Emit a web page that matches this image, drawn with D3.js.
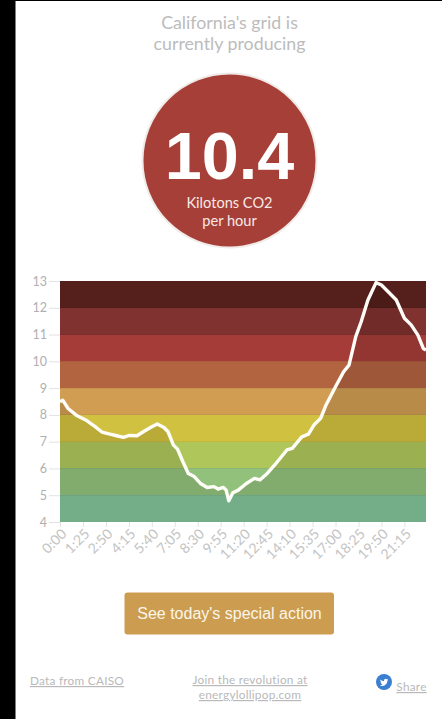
<!DOCTYPE html>
<html><head><meta charset="utf-8">
<script src="https://cdnjs.cloudflare.com/ajax/libs/d3/7.8.5/d3.min.js"></script>
<style>
html,body{margin:0;padding:0;background:#fff;overflow:hidden}
svg{display:block}
text{font-family:Lato,"Open Sans",sans-serif}
</style></head><body><svg id="c" width="442" height="719"></svg>
<script>
const minutes=[0,10,30,60,95,130,155,185,210,235,255,285,310,335,360,385,400,420,435,455,475,495,520,545,570,585,605,615,625,640,660,690,720,740,765,795,840,860,895,920,940,965,985,1020,1050,1070,1095,1115,1140,1170,1190,1215,1245,1275,1300,1325,1345,1355];
const co2=[8.49,8.55,8.24,7.99,7.81,7.56,7.36,7.28,7.22,7.16,7.23,7.22,7.38,7.53,7.66,7.53,7.37,6.87,6.72,6.25,5.81,5.71,5.44,5.29,5.32,5.23,5.29,5.19,4.79,5.09,5.19,5.44,5.63,5.57,5.79,6.13,6.69,6.75,7.18,7.28,7.62,7.87,8.37,9.05,9.61,9.86,10.92,11.48,12.29,12.94,12.85,12.6,12.29,11.61,11.36,10.98,10.48,10.42];
const tickMinutes=[0,85,170,255,340,425,510,595,680,765,850,935,1020,1105,1190,1275];
const tickLabels=["0:00","1:25","2:50","4:15","5:40","7:05","8:30","9:55","11:20","12:45","14:10","15:35","17:00","18:25","19:50","21:15"];
const yTicks=[4,5,6,7,8,9,10,11,12,13];
const bandFloors=[12,11,10,9,8,7,6,5,4];
const bandColors=["#551f1b","#7f3230","#a63c38","#b26340","#d09d52","#d1c140","#afc65a","#92c17c","#82c49a"];

const svg=d3.select("#c");
const x=d3.scaleLinear().domain([0,1355]).range([60,426]);
const y=d3.scaleLinear().domain([4,13]).range([522,281]);

// page frame
svg.append("rect").attr("width",15.5).attr("height",719).attr("fill","#000");
svg.append("rect").attr("width",442).attr("height",1).attr("fill","#000");

// heading
const head=svg.append("g").attr("text-anchor","middle").attr("fill","#bcbcbc").attr("font-size",17.8);
head.append("text").attr("x",229.5).attr("y",29).text("California's grid is");
head.append("text").attr("x",229.5).attr("y",50).text("currently producing");

// gauge
svg.append("circle").attr("cx",229.5).attr("cy",160.5).attr("r",87).attr("fill","#a63f38").attr("stroke","#f0ebe8").attr("stroke-width",2);
svg.append("text").attr("x",229.5).attr("y",179).attr("text-anchor","middle").attr("fill","#fff")
  .attr("font-size",66.5).attr("font-weight",700).style("font-family","'Liberation Sans',Arial,sans-serif").text("10.4");
const sub=svg.append("g").attr("text-anchor","middle").attr("fill","#f7e9e6").attr("font-size",14.6);
sub.append("text").attr("x",229.5).attr("y",208).text("Kilotons CO2");
sub.append("text").attr("x",229.5).attr("y",226).text("per hour");

// bands
svg.append("g").attr("shape-rendering","crispEdges").selectAll("rect").data(bandFloors).join("rect")
  .attr("x",x(0)).attr("width",x(1355)-x(0))
  .attr("y",d=>y(d+1)).attr("height",d=>y(d)-y(d+1))
  .attr("fill",(d,i)=>bandColors[i]);

const pts=minutes.map((m,i)=>[m,co2[i]]);
svg.append("path").datum(pts)
  .attr("d",d3.area().x(d=>x(d[0])).y0(y(4)).y1(d=>y(d[1])))
  .attr("fill","#000").attr("fill-opacity",0.11);

// band separators
svg.append("g").attr("shape-rendering","crispEdges").selectAll("line").data(yTicks.slice(1,-1)).join("line")
  .attr("x1",x(0)).attr("x2",x(1355)).attr("y1",d=>y(d)).attr("y2",d=>y(d))
  .attr("stroke","#000").attr("stroke-opacity",0.05);

// axes
const yAxis=svg.append("g").attr("transform",`translate(${x(0)},0)`)
  .call(d3.axisLeft(y).tickValues(yTicks).tickSize(11).tickPadding(2));
yAxis.select(".domain").remove();
yAxis.selectAll("line").attr("stroke","#e2e2e2");
yAxis.selectAll("text").attr("fill","#b0b0b0").attr("font-size",12.5);

const xAxis=svg.append("g").attr("transform",`translate(0,${y(4)})`)
  .call(d3.axisBottom(x).tickValues(tickMinutes).tickFormat((d,i)=>tickLabels[i]).tickSize(5).tickPadding(4));
xAxis.select(".domain").remove();
xAxis.selectAll("line").attr("stroke","#e2e2e2");
xAxis.selectAll("text").attr("fill","#c4c4c4").attr("font-size",14)
  .attr("text-anchor","end").attr("x",3).attr("y",10).attr("dy","0.5em")
  .attr("transform","rotate(-45 0 10)");

// line
svg.append("path").datum(pts)
  .attr("d",d3.line().x(d=>x(d[0])).y(d=>y(d[1])))
  .attr("fill","none").attr("stroke","#fffdf8").attr("stroke-width",3.4).attr("stroke-linejoin","round");

// button
svg.append("rect").attr("x",124.5).attr("y",592.5).attr("width",209.5).attr("height",42).attr("rx",3).attr("fill","#cc9d50");
svg.append("text").attr("x",229.5).attr("y",619).attr("text-anchor","middle").attr("fill","#fbf5ea")
  .attr("font-size",16).style("font-family","'Liberation Sans',Arial,sans-serif").text("See today's special action");

// footer
const foot=svg.append("g").attr("fill","#b9b9b9").attr("font-size",11.8).attr("letter-spacing",0.25).attr("text-anchor","middle").attr("text-decoration","underline");
foot.append("text").attr("x",77).attr("y",685).text("Data from CAISO");
foot.append("text").attr("x",250).attr("y",684).text("Join the revolution at");
foot.append("text").attr("x",250).attr("y",699).text("energylollipop.com");
foot.append("text").attr("x",411.5).attr("y",691).text("Share");
svg.append("circle").attr("cx",384).attr("cy",682).attr("r",8).attr("fill","#3b7fd0");
svg.append("path").attr("transform","translate(379,677.5) scale(0.42)")
  .attr("d","M22 5c-.7.3-1.5.5-2.3.6.8-.5 1.5-1.3 1.8-2.2-.8.5-1.7.8-2.6 1A4 4 0 0 0 12 8c0 .3 0 .6.1.9C8.8 8.7 5.8 7.1 3.800 4.700a4 4 0 0 0 1.300 5.400c-.7 0-1.300-.2-1.800-.5 0 2 1.400 3.600 3.300 4-.6.2-1.200.2-1.800.1.500 1.600 2 2.800 3.800 2.800A8.200 8.200 0 0 1 2 18.200 11.600 11.600 0 0 0 20 7.900c.8-.6 1.500-1.300 2-2.900z")
  .attr("fill","#fff");
</script></body></html>
